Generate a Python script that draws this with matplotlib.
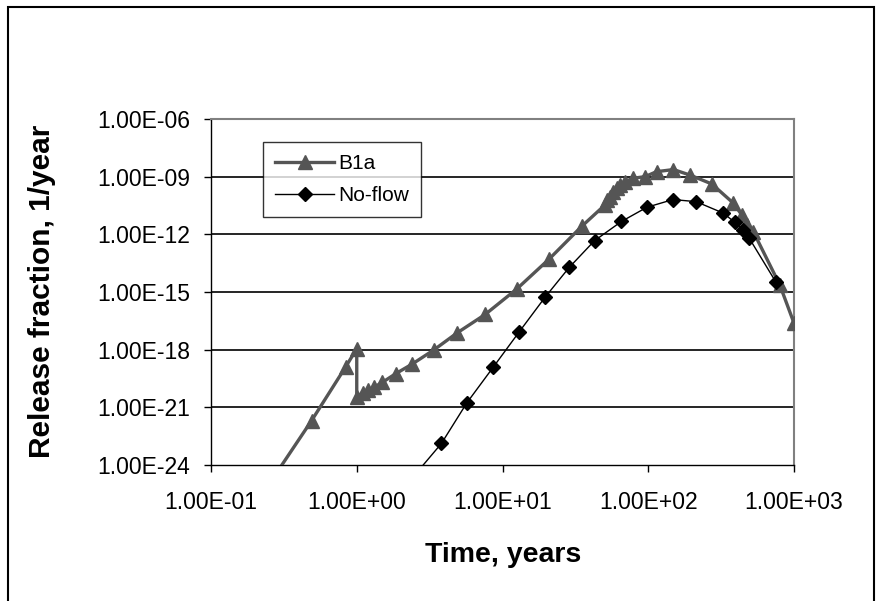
import matplotlib
matplotlib.use("Agg")
import matplotlib.pyplot as plt
import numpy as np
from matplotlib.ticker import FixedLocator, FuncFormatter, NullLocator
from matplotlib.patches import Rectangle

plt.rcParams['font.family'] = ['Liberation Sans', 'DejaVu Sans']

# B1a case (time in years, release fraction 1/year)
b1a_time = [0.25, 0.49, 0.84, 1.0, 1.0, 1.1, 1.2, 1.32, 1.5, 1.85, 2.4, 3.4,
            4.9, 7.6, 12.5, 21, 35, 50.5, 52.4, 54.7, 57.6, 60.8, 64, 69,
            79, 95, 114, 149, 194, 273, 384, 438, 475, 526, 800, 1000]
b1a_exp = [-25.0, -21.69, -18.89, -17.95, -20.45, -20.25, -20.1, -19.95,
           -19.7, -19.25, -18.75, -18.0, -17.12, -16.17, -14.85, -13.27,
           -11.58, -10.47, -10.21, -10.04, -9.78, -9.60, -9.43, -9.26,
           -9.08, -9.0, -8.74, -8.63, -8.92, -9.38, -10.38, -10.99,
           -11.51, -11.86, -14.64, -16.62]
b1a_rel = [10.0 ** e for e in b1a_exp]

# No-flow case
nf_time = [2.5, 3.81, 5.69, 8.64, 13.0, 19.6, 28.7, 42.8, 65.5, 98, 148,
           213, 328, 393, 450, 492, 748]
nf_exp = [-24.52, -22.88, -20.77, -18.91, -17.08, -15.27, -13.72, -12.33,
          -11.33, -10.59, -10.19, -10.30, -10.90, -11.38, -11.75, -12.19,
          -14.46]
nf_rel = [10.0 ** e for e in nf_exp]

xticks = [1e-1, 1e0, 1e1, 1e2, 1e3]
yticks = [1e-24, 1e-21, 1e-18, 1e-15, 1e-12, 1e-9, 1e-6]

fig = plt.figure(figsize=(8.83, 6.01), dpi=100)
ax = fig.add_axes([211 / 883, 1 - 465 / 601, 583 / 883, 346 / 601])

ax.set_xscale('log')
ax.set_yscale('log')
ax.set_xlim(1e-1, 1e3)
ax.set_ylim(1e-24, 1e-6)

for y in yticks[1:-1]:
    ax.axhline(y, color='black', lw=1.2, zorder=1)

ax.plot(b1a_time, b1a_rel, color='#555555', lw=2.4, marker='^', ms=10.5,
        label='B1a', zorder=3)
ax.plot(nf_time, nf_rel, color='black', lw=1.0, marker='D', ms=7.5,
        label='No-flow', zorder=4)

ax.xaxis.set_major_locator(FixedLocator(xticks))
ax.yaxis.set_major_locator(FixedLocator(yticks))
ax.xaxis.set_minor_locator(NullLocator())
ax.yaxis.set_minor_locator(NullLocator())
fmt = FuncFormatter(lambda v, p: "%.2E" % v)
ax.xaxis.set_major_formatter(fmt)
ax.yaxis.set_major_formatter(fmt)
ax.tick_params(axis='both', direction='out', length=5, width=1,
               color='black', labelsize=16.5)
ax.tick_params(axis='x', pad=14)
ax.tick_params(axis='y', pad=10)

for side in ['top', 'right']:
    ax.spines[side].set_color('#808080')
    ax.spines[side].set_linewidth(1.5)
for side in ['left', 'bottom']:
    ax.spines[side].set_color('black')
    ax.spines[side].set_linewidth(1.0)

leg = ax.legend(loc='upper left', bbox_to_anchor=(0.089, 0.934),
                fontsize=15, frameon=True, fancybox=False, handlelength=2.8,
                borderpad=0.6, labelspacing=0.6, handletextpad=0.2,
                borderaxespad=0)
leg.get_frame().set_edgecolor('black')
leg.get_frame().set_linewidth(1.0)

fig.text(503 / 883, 1 - 555 / 601, 'Time, years', fontsize=20.5,
         fontweight='bold', ha='center', va='center')
fig.text(42 / 883, 1 - 291 / 601, 'Release fraction, 1/year', fontsize=21.5,
         fontweight='bold', rotation=90, ha='center', va='center')

fig.patches.append(Rectangle((8 / 883, -0.02), 866 / 883, 1.02 - 7 / 601,
                             transform=fig.transFigure, fill=False,
                             edgecolor='black', lw=1.5))

fig.savefig('out.png', dpi=100)
